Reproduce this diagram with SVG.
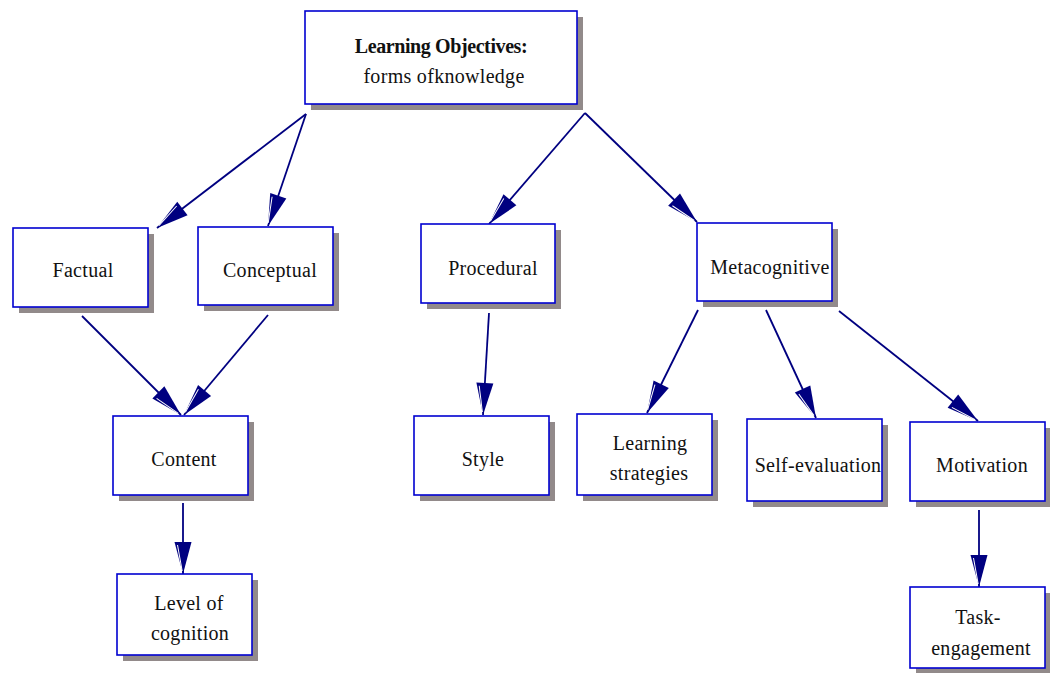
<svg xmlns="http://www.w3.org/2000/svg" width="1050" height="673" viewBox="0 0 1050 673">
<style>
.box{fill:#fff;stroke:#0000d0;stroke-width:1.6}
.sh{fill:#928a8a}
.t{font-family:"Liberation Serif","Times New Roman",serif;font-size:20px;fill:#111;text-anchor:middle;letter-spacing:0.3px}
.b{font-weight:bold;letter-spacing:-0.4px}
.c{stroke:#000080;stroke-width:1.8;fill:none;marker-end:url(#ah)}
</style>
<defs>
<marker id="ah" markerUnits="userSpaceOnUse" markerWidth="36" markerHeight="22" viewBox="0 -11 36 22" refX="32" refY="0" orient="auto" overflow="visible">
<path d="M0,-8.5 L32,0 L0,8.5 Z" fill="#000080"/>
<path d="M3,5.5 L29,0.8" stroke="#fff" stroke-width="1"/>
</marker>
</defs>
<g id="connectors">
<line class="c" x1="306" y1="114" x2="157" y2="228"/>
<line class="c" x1="306" y1="114" x2="268" y2="226"/>
<line class="c" x1="585" y1="113" x2="489" y2="224"/>
<line class="c" x1="585" y1="113" x2="697" y2="222"/>
<line class="c" x1="82" y1="316" x2="181" y2="415"/>
<line class="c" x1="268" y1="315" x2="184" y2="415"/>
<line class="c" x1="489" y1="313" x2="483" y2="415"/>
<line class="c" x1="183" y1="503" x2="183" y2="574"/>
<line class="c" x1="698" y1="310" x2="647" y2="413"/>
<line class="c" x1="766" y1="310" x2="816" y2="418"/>
<line class="c" x1="839" y1="311" x2="978" y2="421"/>
<line class="c" x1="979" y1="510" x2="979" y2="587"/>
</g>
<g id="n-root">
<rect class="sh" x="311" y="17" width="272" height="93"/>
<rect class="box" x="305" y="11" width="272" height="93"/>
<text class="t b" x="441" y="53">Learning Objectives:</text>
<text class="t" x="444" y="83">forms ofknowledge</text>
</g>
<g id="n-factual">
<rect class="sh" x="19" y="234" width="135" height="79"/>
<rect class="box" x="13" y="228" width="135" height="79"/>
<text class="t" x="83" y="277">Factual</text>
</g>
<g id="n-conceptual">
<rect class="sh" x="204" y="233" width="135" height="78"/>
<rect class="box" x="198" y="227" width="135" height="78"/>
<text class="t" x="270" y="277">Conceptual</text>
</g>
<g id="n-procedural">
<rect class="sh" x="427" y="230" width="134" height="79"/>
<rect class="box" x="421" y="224" width="134" height="79"/>
<text class="t" x="493" y="275">Procedural</text>
</g>
<g id="n-metacognitive">
<rect class="sh" x="703" y="229" width="135" height="78"/>
<rect class="box" x="697" y="223" width="135" height="78"/>
<text class="t" x="770" y="274">Metacognitive</text>
</g>
<g id="n-content">
<rect class="sh" x="119" y="422" width="135" height="79"/>
<rect class="box" x="113" y="416" width="135" height="79"/>
<text class="t" x="184" y="466">Content</text>
</g>
<g id="n-level">
<rect class="sh" x="123" y="580" width="135" height="81"/>
<rect class="box" x="117" y="574" width="135" height="81"/>
<text class="t" x="189" y="610">Level of</text>
<text class="t" x="190" y="640">cognition</text>
</g>
<g id="n-style">
<rect class="sh" x="420" y="422" width="135" height="79"/>
<rect class="box" x="414" y="416" width="135" height="79"/>
<text class="t" x="483" y="466">Style</text>
</g>
<g id="n-strategies">
<rect class="sh" x="583" y="420" width="135" height="81"/>
<rect class="box" x="577" y="414" width="135" height="81"/>
<text class="t" x="650" y="450">Learning</text>
<text class="t" x="649" y="480">strategies</text>
</g>
<g id="n-selfeval">
<rect class="sh" x="753" y="425" width="135" height="82"/>
<rect class="box" x="747" y="419" width="135" height="82"/>
<text class="t" x="818" y="472">Self-evaluation</text>
</g>
<g id="n-motivation">
<rect class="sh" x="916" y="428" width="135" height="79"/>
<rect class="box" x="910" y="422" width="135" height="79"/>
<text class="t" x="982" y="472">Motivation</text>
</g>
<g id="n-task">
<rect class="sh" x="916" y="593" width="135" height="81"/>
<rect class="box" x="910" y="587" width="135" height="81"/>
<text class="t" x="978" y="624">Task-</text>
<text class="t" x="981" y="655">engagement</text>
</g>
</svg>
